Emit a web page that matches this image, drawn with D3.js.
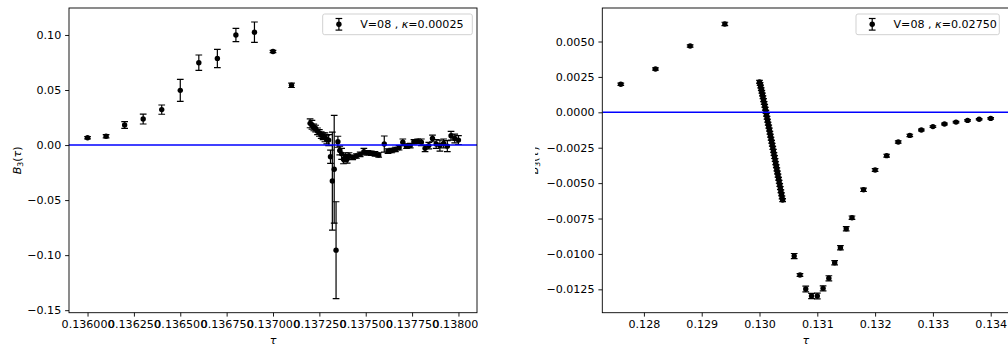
<!DOCTYPE html>
<html>
<head>
<meta charset="utf-8">
<style>
body { margin: 0; background: #fff; }
svg { display: block; font-family: "DejaVu Sans", sans-serif; }
</style>
</head>
<body>
<svg width="1008" height="349"></svg>
<script src="https://cdn.jsdelivr.net/npm/d3@7"></script>
<script>
// ---- left panel data: V=08, kappa=0.00025 ----
var leftTau = [0.13600, 0.13610, 0.13620, 0.13630, 0.13640, 0.13650, 0.13660, 0.13670, 0.13680, 0.13690,
  0.13700, 0.13710,
  0.13720, 0.13721, 0.13722, 0.13723, 0.13724, 0.13725, 0.13726, 0.13727, 0.13728, 0.13729, 0.13730,
  0.13731, 0.13732, 0.13733, 0.13734,
  0.13735, 0.13736, 0.13737, 0.13738, 0.13739, 0.13740, 0.13741,
  0.13743, 0.13745, 0.13747, 0.13749, 0.13751, 0.13753, 0.13755, 0.13757, 0.13760, 0.13762,
  0.13764, 0.13766, 0.13768, 0.13770, 0.13772, 0.13774, 0.13776, 0.13778, 0.13780, 0.13782,
  0.13784, 0.13786, 0.13788, 0.13790, 0.13792, 0.13794, 0.13796, 0.13798, 0.13800];
var leftB = [0.0066, 0.0080, 0.0182, 0.0236, 0.0322, 0.0497, 0.0748, 0.0787, 0.1000, 0.1025,
  0.0850, 0.0543,
  0.0197, 0.0185, 0.0160, 0.0150, 0.0125, 0.0110, 0.0090, 0.0080, 0.0070, 0.0050, 0.0045,
  -0.0106, -0.0327, -0.0220, -0.0955,
  0.0030, -0.0050, -0.0080, -0.0130, -0.0110, -0.0125, -0.0100,
  -0.0112, -0.0100, -0.0085, -0.0060, -0.0070, -0.0075, -0.0080, -0.0090, 0.0009, -0.0055,
  -0.0050, -0.0040, -0.0025, 0.0025, -0.0010, -0.0005, 0.0030, 0.0035, 0.0025, -0.0030,
  -0.0005, 0.0060, 0.0010, -0.0005, 0.0015, -0.0010, 0.0085, 0.0060, 0.0045];
var leftErr = [0.0010, 0.0015, 0.0030, 0.0045, 0.0042, 0.0100, 0.0070, 0.0083, 0.0060, 0.0093,
  0.0010, 0.0020,
  0.0040, 0.0040, 0.0030, 0.0030, 0.0030, 0.0030, 0.0030, 0.0030, 0.0040, 0.0040, 0.0050,
  0.0060, 0.0445, 0.0490, 0.0440,
  0.0050, 0.0040, 0.0050, 0.0040, 0.0040, 0.0040, 0.0030,
  0.0020, 0.0020, 0.0020, 0.0030, 0.0020, 0.0020, 0.0020, 0.0020, 0.0073, 0.0020,
  0.0020, 0.0020, 0.0020, 0.0030, 0.0020, 0.0020, 0.0020, 0.0020, 0.0030, 0.0030,
  0.0030, 0.0030, 0.0040, 0.0050, 0.0040, 0.0050, 0.0040, 0.0040, 0.0040];

// ---- right panel data: V=08, kappa=0.02750 ----
var rightTau = [0.1276, 0.1282, 0.1288, 0.1294,
  0.13000, 0.13001, 0.13002, 0.13003, 0.13004, 0.13005, 0.13006, 0.13007, 0.13008, 0.13009,
  0.13010, 0.13011, 0.13012, 0.13013, 0.13014, 0.13015, 0.13016, 0.13017, 0.13018, 0.13019,
  0.13020, 0.13021, 0.13022, 0.13023, 0.13024, 0.13025, 0.13026, 0.13027, 0.13028, 0.13029,
  0.13030, 0.13031, 0.13032, 0.13033, 0.13034, 0.13035, 0.13036, 0.13037, 0.13038, 0.13039, 0.13040,
  0.1306, 0.1307, 0.1308, 0.1309, 0.1310, 0.1311, 0.1312, 0.1313, 0.1314, 0.1315, 0.1316, 0.1318,
  0.1320, 0.1322, 0.1324, 0.1326, 0.1328, 0.1330, 0.1332, 0.1334, 0.1336, 0.1338, 0.1340];
var rightB = [0.00198, 0.00306, 0.00468, 0.00624,
  0.00215, 0.00200, 0.00182, 0.00163, 0.00145, 0.00126, 0.00106, 0.00086, 0.00066, 0.00046,
  0.00025, 0.00004, -0.00017, -0.00038, -0.00059, -0.00080, -0.00101, -0.00122, -0.00144, -0.00165,
  -0.00186, -0.00208, -0.00229, -0.00251, -0.00272, -0.00294, -0.00316, -0.00337, -0.00359, -0.00381,
  -0.00403, -0.00425, -0.00447, -0.00469, -0.00491, -0.00513, -0.00535, -0.00557, -0.00579, -0.00601, -0.00620,
  -0.01015, -0.01149, -0.01248, -0.01297, -0.01297, -0.01243, -0.01172, -0.01062, -0.00956, -0.00822, -0.00744, -0.00547,
  -0.00407, -0.00306, -0.00210, -0.00163, -0.00125, -0.00101, -0.00083, -0.00069, -0.00057, -0.00049, -0.00043];
var rightErr = [0.00008, 0.00008, 0.00008, 0.00012,
  0.0001, 0.0001, 0.0001, 0.0001, 0.0001, 0.0001, 0.0001, 0.0001, 0.0001, 0.0001,
  0.0001, 0.0001, 0.0001, 0.0001, 0.0001, 0.0001, 0.0001, 0.0001, 0.0001, 0.0001,
  0.0001, 0.0001, 0.0001, 0.0001, 0.0001, 0.0001, 0.0001, 0.0001, 0.0001, 0.0001,
  0.0001, 0.0001, 0.0001, 0.0001, 0.0001, 0.0001, 0.0001, 0.0001, 0.0001, 0.0001, 0.0001,
  0.00018, 0.00010, 0.00020, 0.00018, 0.00020, 0.00018, 0.00018, 0.00015, 0.00015, 0.00015, 0.00012, 0.00012,
  0.00010, 0.00010, 0.00008, 0.00008, 0.00006, 0.00006, 0.00006, 0.00005, 0.00005, 0.00005, 0.00005];

// ticks
var leftXTicks = [0.136, 0.13625, 0.1365, 0.13675, 0.137, 0.13725, 0.1375, 0.13775, 0.138];
var leftYTicks = [-0.15, -0.10, -0.05, 0, 0.05, 0.10];
var rightXTicks = [0.128, 0.129, 0.130, 0.131, 0.132, 0.133, 0.134];
var rightYTicks = [-0.0125, -0.0100, -0.0075, -0.0050, -0.0025, 0, 0.0025, 0.0050];

var fs = 11.1; // ~10pt
var svg = d3.select("svg");
var defs = svg.append("defs");
// the two halves of the figure are cropped side by side
defs.append("clipPath").attr("id", "imgL").append("rect")
    .attr("x", 0).attr("y", 0).attr("width", 478).attr("height", 349);
defs.append("clipPath").attr("id", "imgR").append("rect")
    .attr("x", 535).attr("y", 0).attr("width", 473).attr("height", 349);

function drawPanel(p) {
  var g = svg.append("g").attr("clip-path", "url(#" + p.clip + ")");
  var x = d3.scaleLinear().domain(p.xDomain).range([p.left, p.right]);
  var y = d3.scaleLinear().domain(p.yDomain).range([p.bottom, p.top]);

  defs.append("clipPath").attr("id", p.clip + "ax").append("rect")
      .attr("x", p.left).attr("y", p.top)
      .attr("width", p.right - p.left).attr("height", p.bottom - p.top);

  var plot = g.append("g").attr("clip-path", "url(#" + p.clip + "ax)");
  var idx = d3.range(p.tau.length);
  var cap = 3.35;

  // error bars
  var eb = plot.selectAll("g.eb").data(idx).enter().append("g")
      .attr("class", "eb").attr("stroke", "#000").attr("stroke-width", 1.2);
  eb.append("line")
      .attr("x1", function(i) { return x(p.tau[i]); })
      .attr("x2", function(i) { return x(p.tau[i]); })
      .attr("y1", function(i) { return y(p.b[i] - p.err[i]); })
      .attr("y2", function(i) { return y(p.b[i] + p.err[i]); });
  [-1, 1].forEach(function(s) {
    eb.append("line")
        .attr("x1", function(i) { return x(p.tau[i]) - cap; })
        .attr("x2", function(i) { return x(p.tau[i]) + cap; })
        .attr("y1", function(i) { return y(p.b[i] + s * p.err[i]); })
        .attr("y2", function(i) { return y(p.b[i] + s * p.err[i]); });
  });
  plot.selectAll("circle").data(idx).enter().append("circle")
      .attr("cx", function(i) { return x(p.tau[i]); })
      .attr("cy", function(i) { return y(p.b[i]); })
      .attr("r", 2.7)
      .attr("fill", "#000");

  // zero line
  plot.append("line")
      .attr("x1", p.left).attr("x2", p.right)
      .attr("y1", y(0)).attr("y2", y(0))
      .attr("stroke", "#0000ff").attr("stroke-width", 1.4);

  // axes
  var xa = g.append("g").attr("transform", "translate(0," + p.bottom + ")")
      .call(d3.axisBottom(x).tickValues(p.xTicks).tickFormat(p.xFmt)
        .tickSize(3.9).tickPadding(3.9).tickSizeOuter(0));
  var ya = g.append("g").attr("transform", "translate(" + p.left + ",0)")
      .call(d3.axisLeft(y).tickValues(p.yTicks).tickFormat(p.yFmt)
        .tickSize(3.9).tickPadding(3.9).tickSizeOuter(0));
  [xa, ya].forEach(function(a) {
    a.select(".domain").remove();
    a.attr("font-family", null).attr("font-size", null);
    a.selectAll("line").attr("stroke", "#000").attr("stroke-width", 0.9);
    a.selectAll("text").attr("fill", "#000").style("font-size", fs + "px");
  });

  // spines
  g.append("rect")
      .attr("x", p.left).attr("y", p.top)
      .attr("width", p.right - p.left).attr("height", p.bottom - p.top)
      .attr("fill", "none").attr("stroke", "#000").attr("stroke-width", 0.9);

  // labels
  g.append("text")
      .attr("x", (p.left + p.right) / 2).attr("y", 343.5)
      .attr("text-anchor", "middle").style("font-size", fs + "px")
      .style("font-style", "italic").text("τ");
  var yl = g.append("text")
      .attr("transform", "translate(" + p.ylabelX + "," + ((p.top + p.bottom) / 2) + ") rotate(-90)")
      .attr("text-anchor", "middle").style("font-size", fs + "px");
  yl.append("tspan").style("font-style", "italic").text("B");
  yl.append("tspan").attr("dy", 2.4).style("font-size", (fs * 0.7) + "px").text("3");
  yl.append("tspan").attr("dy", -2.4).text("(");
  yl.append("tspan").style("font-style", "italic").text("τ");
  yl.append("tspan").text(")");

  // legend
  var lg = g.append("g");
  lg.append("rect")
      .attr("x", p.legX).attr("y", 14).attr("width", p.legW).attr("height", 20.7)
      .attr("rx", 2).attr("fill", "#fff").attr("fill-opacity", 0.8)
      .attr("stroke", "#cccccc").attr("stroke-width", 0.9);
  var hx = p.legX + 16.2, hy = 24.3;
  lg.append("line").attr("x1", hx).attr("x2", hx).attr("y1", hy - 5.8).attr("y2", hy + 5.8)
      .attr("stroke", "#000").attr("stroke-width", 1.2);
  [-5.8, 5.8].forEach(function(d) {
    lg.append("line").attr("x1", hx - cap).attr("x2", hx + cap).attr("y1", hy + d).attr("y2", hy + d)
        .attr("stroke", "#000").attr("stroke-width", 1.2);
  });
  lg.append("circle").attr("cx", hx).attr("cy", hy).attr("r", 2.7).attr("fill", "#000");
  var lt = lg.append("text").attr("x", p.legX + 37.5).attr("y", 28.3).style("font-size", fs + "px");
  lt.append("tspan").text("V=08 , ");
  lt.append("tspan").style("font-style", "italic").text("κ");
  lt.append("tspan").text("=" + p.kappa);
}

drawPanel({
  clip: "imgL", left: 69, right: 477, top: 8, bottom: 312.7,
  xDomain: [0.1359, 0.1381], yDomain: [-0.1523, 0.1245],
  xTicks: leftXTicks, xFmt: d3.format(".6f"),
  yTicks: leftYTicks, yFmt: d3.format(".2f"),
  tau: leftTau, b: leftB, err: leftErr,
  legX: 322.7, legW: 149.6, kappa: "0.00025", ylabelX: 20.5
});
drawPanel({
  clip: "imgR", left: 602.3, right: 1009.2, top: 8, bottom: 312.7,
  xDomain: [0.12728, 0.13432], yDomain: [-0.01415, 0.007366],
  xTicks: rightXTicks, xFmt: d3.format(".3f"),
  yTicks: rightYTicks, yFmt: d3.format(".4f"),
  tau: rightTau, b: rightB, err: rightErr,
  legX: 856, legW: 143.3, kappa: "0.02750", ylabelX: 537.5
});
</script>
</body>
</html>
